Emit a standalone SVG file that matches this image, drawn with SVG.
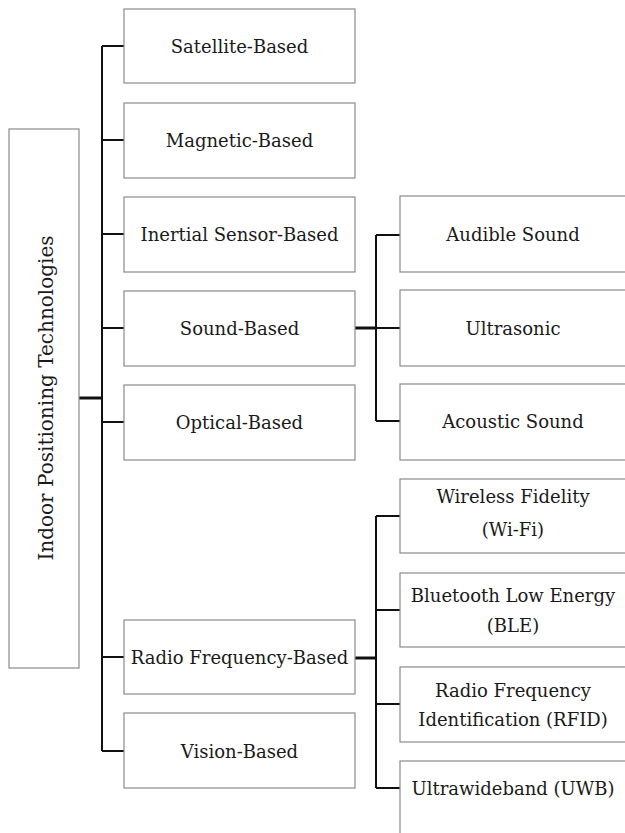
<svg xmlns="http://www.w3.org/2000/svg" width="625" height="833" viewBox="0 0 625 833">
<style>
.box{fill:#fff;stroke:#8a8a8a;stroke-width:1.2}
.t{font-family:"DejaVu Serif","Liberation Serif",serif;font-size:18px;fill:#1a1a1a;text-anchor:middle}
.c{fill:none;stroke:#111;stroke-width:2}
.ct{fill:none;stroke:#111;stroke-width:3}
</style>
<rect width="625" height="833" fill="#fff"/>
<g id="connectors">
<path class="ct" d="M79 398H102"/>
<path class="c" d="M102 46V751"/>
<path class="c" d="M102 46H124M102 140H124M102 234H124M102 328H124M102 422H124M102 657H124M102 751H124"/>
<path class="ct" d="M355 328H376"/>
<path class="c" d="M376 235V421M376 235H400M376 328H400M376 421H400"/>
<path class="ct" d="M355 658H376"/>
<path class="c" d="M376 516V788M376 516H400M376 610H400M376 704H400M376 788H400"/>
</g>
<g id="root"><rect class="box" x="9" y="129" width="70" height="539"/><text class="t" style="font-size:20px" transform="translate(53 398) rotate(-90)">Indoor Positioning Technologies</text></g>
<g id="satellite"><rect class="box" x="124" y="9" width="231" height="74"/><text class="t" x="239.5" y="53">Satellite-Based</text></g>
<g id="magnetic"><rect class="box" x="124" y="103" width="231" height="75"/><text class="t" x="239.5" y="147">Magnetic-Based</text></g>
<g id="inertial"><rect class="box" x="124" y="197" width="231" height="75"/><text class="t" x="239.5" y="241">Inertial Sensor-Based</text></g>
<g id="sound"><rect class="box" x="124" y="291" width="231" height="75"/><text class="t" x="239.5" y="335">Sound-Based</text></g>
<g id="optical"><rect class="box" x="124" y="385" width="231" height="75"/><text class="t" x="239.5" y="429">Optical-Based</text></g>
<g id="radio"><rect class="box" x="124" y="620" width="231" height="74"/><text class="t" x="239.5" y="664">Radio Frequency-Based</text></g>
<g id="vision"><rect class="box" x="124" y="713" width="231" height="75"/><text class="t" x="239.5" y="758">Vision-Based</text></g>
<g id="audible"><rect class="box" x="400" y="196" width="227" height="76"/><text class="t" x="513" y="241">Audible Sound</text></g>
<g id="ultrasonic"><rect class="box" x="400" y="290" width="227" height="76"/><text class="t" x="513" y="335">Ultrasonic</text></g>
<g id="acoustic"><rect class="box" x="400" y="384" width="227" height="76"/><text class="t" x="513" y="428">Acoustic Sound</text></g>
<g id="wifi"><rect class="box" x="400" y="479" width="227" height="74"/><text class="t" x="513" y="503">Wireless Fidelity</text><text class="t" x="513" y="536">(Wi-Fi)</text></g>
<g id="ble"><rect class="box" x="400" y="573" width="227" height="74"/><text class="t" x="513" y="602">Bluetooth Low Energy</text><text class="t" x="513" y="632">(BLE)</text></g>
<g id="rfid"><rect class="box" x="400" y="667" width="227" height="75"/><text class="t" x="513" y="697">Radio Frequency</text><text class="t" x="513" y="726">Identification (RFID)</text></g>
<g id="uwb"><rect class="box" x="400" y="761" width="227" height="80"/><text class="t" x="513" y="795">Ultrawideband (UWB)</text></g>
</svg>
